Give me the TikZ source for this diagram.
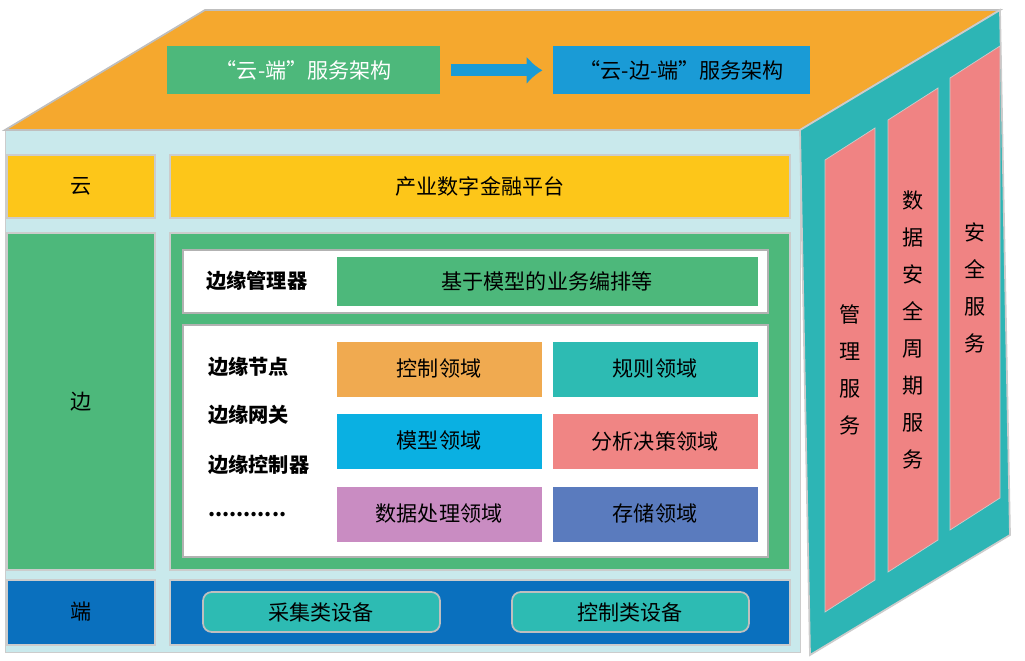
\documentclass[tikz,border=0pt]{standalone}
\usepackage{fontspec}
\setmainfont{Noto Sans CJK SC}
\usetikzlibrary{positioning,arrows.meta}
\definecolor{topor}{HTML}{F5A82E}
\definecolor{faceblue}{HTML}{C9E9EC}
\definecolor{sideteal}{HTML}{2DB5B5}
\definecolor{pillred}{HTML}{F08383}
\definecolor{yel}{HTML}{FDC619}
\definecolor{grn}{HTML}{4DB87B}
\definecolor{dblue}{HTML}{0A70BE}
\definecolor{orng}{HTML}{F0AA50}
\definecolor{teal2}{HTML}{2DBBB3}
\definecolor{cyan2}{HTML}{0AB0E2}
\definecolor{salm}{HTML}{F08584}
\definecolor{pink2}{HTML}{C98CC2}
\definecolor{blue2}{HTML}{5A7BBE}
\definecolor{arch}{HTML}{1A9BD6}
\begin{document}
\begin{tikzpicture}[x=0.02cm,y=-0.02cm,
  font=\fontsize{12}{14}\selectfont,
  box/.style={draw=gray!40,line width=1pt,inner sep=0pt},
  cell/.style={fill=#1,inner sep=0pt,anchor=north west},
  lbl/.style={font=\fontsize{11.5}{13}\selectfont\bfseries,anchor=west}]
  \useasboundingbox (0,0) rectangle (1025,661);

  % faces
  \fill[faceblue,draw=gray!40] (5,130) rectangle (800,652);
  \fill[topor,draw=gray!50,line width=1pt] (5,130) -- (205,10) -- (1000,10) -- (800,130) -- cycle;
  \fill[sideteal,draw=gray!40,line width=1pt] (800,130) -- (1000,10) -- (1010,535) -- (810,655) -- cycle;

  % pillars
  \foreach \px/\py/\name/\txt in {825/160/mgmt/管\\理\\服\\务, 888/120/life/数\\据\\安\\全\\周\\期\\服\\务, 950/78/secu/安\\全\\服\\务}{
    \fill[pillred,draw=gray!40] (\px,\py) -- (\px+50,\py-32) -- (\px+50,\py+420) -- (\px,\py+452) -- cycle;
    \node[align=center,font=\fontsize{12}{21}\selectfont] (\name) at (\px+25,\py+210) {\txt};
  }

  % top face boxes
  \node[cell=grn,minimum width=273*0.02cm,minimum height=48*0.02cm,text=white] (ce) at (167,46) {};
  \node[text=white] at (ce.center) {“云-端”服务架构};
  \node[cell=arch,minimum width=257*0.02cm,minimum height=48*0.02cm] (cee) at (553,46) {};
  \node at (cee.center) {“云-边-端”服务架构};
  \draw[arch,line width=7pt,-{Latex[length=9pt,width=16pt]}] (ce.east) ++(10,0) -- ([xshift=-6pt]cee.west);

  % cloud row
  \fill[yel,box] (7,155) rectangle (155,218);
  \node (yun) at (81,186) {云};
  \fill[yel,box] (170,155) rectangle (790,218);
  \node (plat) at (480,186) {产业数字金融平台};

  % edge row
  \fill[grn,box] (7,233) rectangle (155,570);
  \node (bian) at (81,402) {边};
  \fill[grn,box] (170,233) rectangle (790,570);
  \fill[white,draw=gray!60,line width=1.5pt] (183,250) rectangle (768,313);
  \node[lbl] (mgr) at (200,281) {边缘管理器};
  \fill[grn] (337,257) rectangle (758,306);
  \node (orch) at (547,281) {基于模型的业务编排等};
  \fill[white,draw=gray!60,line width=1.5pt] (183,325) rectangle (768,557);
  \node[lbl] (node1) at (202,367) {边缘节点};
  \node[lbl] (gate) at (202,415) {边缘网关};
  \node[lbl] (ctrl) at (202,465) {边缘控制器};
  \node[lbl] (dots) at (202,515) {...........};
  \foreach \cx/\cy/\cc/\name/\txt in {
    337/342/orng/dctl/控制领域, 553/342/teal2/drule/规则领域,
    337/414/cyan2/dmod/模型领域, 553/414/salm/dana/分析决策领域,
    337/487/pink2/ddata/数据处理领域, 553/487/blue2/dstore/存储领域}{
    \fill[\cc] (\cx,\cy) rectangle (\cx+205,\cy+55);
    \node (\name) at (\cx+102,\cy+27) {\txt};
  }

  % end row
  \fill[dblue,box] (7,580) rectangle (155,645);
  \node (duan) at (81,612) {端};
  \fill[dblue,box] (170,580) rectangle (790,645);
  \foreach \cx/\name/\txt in {203/coll/采集类设备, 512/cdev/控制类设备}{
    \fill[teal2,draw=gray!50,line width=1pt,rounded corners=5pt] (\cx,592) rectangle (\cx+237,632);
    \node (\name) at (\cx+118,612) {\txt};
  }
\end{tikzpicture}
\end{document}
